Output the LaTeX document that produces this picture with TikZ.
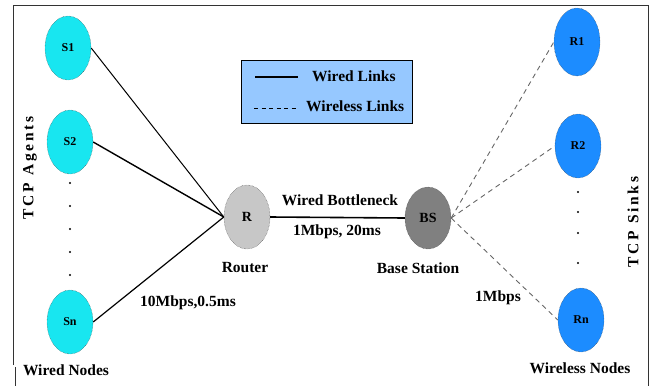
\documentclass[tikz,border=0pt]{standalone}
\usepackage{fontspec}
\setmainfont{Liberation Serif}
\usetikzlibrary{shapes.geometric}

\definecolor{wiredfill}{RGB}{24,230,240}
\definecolor{sinkfill}{RGB}{28,140,255}
\definecolor{legendfill}{RGB}{150,200,255}

\tikzset{
    host/.style={ellipse, draw=black!75, densely dotted, inner sep=0pt,
        minimum width=46, minimum height=64,
        font=\fontsize{12}{13}\selectfont\bfseries},
    lbl/.style={font=\fontsize{15.5}{17}\selectfont\bfseries, inner sep=1pt},
    wired/.style={draw=black, line width=1pt},
    wireless/.style={draw=black!60, line width=0.9pt, dash pattern=on 5pt off 4pt}
}

\begin{document}
\begin{tikzpicture}[x=1pt, y=-1pt]
    \useasboundingbox (0,0) rectangle (650,386);

    % outer frame
    \draw[black!80, line width=0.8pt] (13,365) -- (13,5) -- (648,5) -- (648,386);
    \draw[black!80, line width=0.8pt] (15.5,367) -- (15.5,386);

    \begin{scope}[
            every node/.style={host, fill=wiredfill}
        ]
        \node (s1) at (68,48) {S1};
        \node (s2) at (70,142) {S2};
        \node (sn) at (70,322) {Sn};
    \end{scope}
    \begin{scope}[
            every node/.style={host, fill=sinkfill}
        ]
        \node (r1) at (577,42) [minimum height=68] {R1};
        \node (r2) at (578,146) {R2};
        \node (rn) at (581,320) {Rn};
    \end{scope}
    \node[host, fill=black!22, font=\fontsize{14}{15}\selectfont\bfseries] (r) at (247,217) {R};
    \node[host, fill=black!50, font=\fontsize{14}{15}\selectfont\bfseries, minimum height=62] (bs) at (428,218) {BS};

    % dots
    \foreach \y in {183,206,229,252,275}
        \fill (70,\y) circle (1.1);
    \foreach \y in {192,212,233,263}
        \fill (578,\y) circle (1.1);

    % links
    \draw[wired] (s1.east) -- (r.west);
    \draw[wired, line width=1.4pt] (s2.east) -- (r.west);
    \draw[wired, line width=1.2pt] (sn.east) -- (r.west);
    \draw[wired, line width=1.6pt] (r.east) -- (bs.west);
    \draw[wireless] (bs.east) -- (r1.west);
    \draw[wireless] (bs.east) -- (r2.west);
    \draw[wireless] (bs.east) -- (rn.west);

    % labels
    \node[lbl] (bneck) at (340,200) {Wired Bottleneck};
    \node[lbl] (bwbs) at (337,232) {1Mbps, 20ms};
    \node[lbl] (router) at (245,268) {Router};
    \node[lbl] (bsname) at (418,268) {Base Station};
    \node[lbl] (wiredbw) at (188,303) {10Mbps,0.5ms};
    \node[lbl] (wlbw) at (498,298) {1Mbps};
    \node[lbl] (wirednodes) at (66,370) {Wired Nodes};
    \node[lbl] (wlnodes) at (580,368) {Wireless Nodes};
    \node[lbl, rotate=90] (agents) at (30,168) {T\,C\,P\ \ A\,g\,e\,n\,t\,s};
    \node[lbl, rotate=90] (sinks) at (633,222) {T\,C\,P\ \ S\,i\,n\,k\,s};

    % legend
    \node[draw=black, line width=1.2pt, fill=legendfill, minimum width=171,
        minimum height=63, inner sep=0pt] (legend) at (327,92) {};
    \coordinate (la) at (255,77);
    \coordinate (lb) at (298,77);
    \coordinate (lc) at (254,108);
    \coordinate (ld) at (298,108);
    \draw[wired, line width=1.6pt] (la) -- (lb);
    \draw[black, line width=0.9pt, dash pattern=on 4pt off 3.5pt] (lc) -- (ld);
    \node[lbl, anchor=west] (lwired) at (311,76) {Wired Links};
    \node[lbl, anchor=west] (lwl) at (305,106) {Wireless Links};
\end{tikzpicture}
\end{document}
